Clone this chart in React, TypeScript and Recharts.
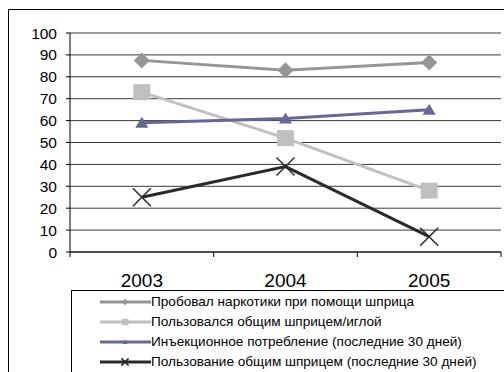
import React from "react";
import { LineChart, Line, XAxis, YAxis, CartesianGrid } from "recharts";

const categories = ["2003", "2004", "2005"];
const seriesNames = [
  "Пробовал наркотики при помощи шприца",
  "Пользовался общим шприцем/иглой",
  "Инъекционное потребление (последние 30 дней)",
  "Пользование общим шприцем (последние 30 дней)",
];
const triedInjecting = [87.5, 83, 86.5];
const sharedSyringe = [73, 52, 28];
const injecting30 = [59, 61, 65];
const sharedSyringe30 = [25, 39, 7];
const yTicks = [0, 10, 20, 30, 40, 50, 60, 70, 80, 90, 100];

const seriesValues = [triedInjecting, sharedSyringe, injecting30, sharedSyringe30];
const colors = ["#969696", "#c0c0c0", "#666699", "#2a2a2a"];
const shapes = ["diamond", "square", "triangle", "cross"];

const data = categories.map((c, i) => ({
  x: i + 0.5,
  label: c,
  s0: seriesValues[0][i],
  s1: seriesValues[1][i],
  s2: seriesValues[2][i],
  s3: seriesValues[3][i],
}));

const FONT = "'Liberation Sans', Arial, sans-serif";

function Marker({ shape, cx, cy, color, scale }: any) {
  const s = scale;
  if (shape === "diamond") {
    return (
      <polygon
        points={`${cx},${cy - 8 * s} ${cx + 8 * s},${cy} ${cx},${cy + 8 * s} ${cx - 8 * s},${cy}`}
        fill={color}
      />
    );
  }
  if (shape === "square") {
    return <rect x={cx - 8.5 * s} y={cy - 8 * s} width={17 * s} height={16 * s} fill={color} />;
  }
  if (shape === "triangle") {
    return (
      <polygon
        points={`${cx},${cy - 6 * s} ${cx + 6.5 * s},${cy + 5 * s} ${cx - 6.5 * s},${cy + 5 * s}`}
        fill={color}
      />
    );
  }
  return (
    <g stroke={color} strokeWidth={1.5}>
      <line x1={cx - 9 * s} y1={cy - 9 * s} x2={cx + 9 * s} y2={cy + 9 * s} />
      <line x1={cx - 9 * s} y1={cy + 9 * s} x2={cx + 9 * s} y2={cy - 9 * s} />
    </g>
  );
}

const makeDot = (idx: number) => (props: any) => {
  const { cx, cy, index } = props;
  if (cx == null || cy == null) return <g key={index} />;
  return (
    <g key={`d${idx}-${index}`}>
      <Marker shape={shapes[idx]} cx={cx} cy={cy} color={colors[idx]} scale={1} />
    </g>
  );
};

const XTick = (props: any) => {
  const { x, y, payload } = props;
  const v = payload.value;
  if (Number.isInteger(v)) {
    return <line x1={x} y1={y} x2={x} y2={y + 5} stroke="#000" strokeWidth={1} />;
  }
  const i = Math.floor(v);
  return (
    <text x={x} y={y + 35} textAnchor="middle" fontFamily={FONT} fontSize={19} fill="#000">
      {categories[i]}
    </text>
  );
};

export default function App() {
  return (
    <div
      style={{
        position: "absolute",
        left: 0,
        top: 0,
        width: 504,
        height: 372,
        overflow: "hidden",
        background: "#fff",
      }}
    >
      <div
        style={{
          position: "absolute",
          left: 8,
          top: 9,
          width: 600,
          height: 500,
          border: "1px solid #000",
          boxSizing: "border-box",
        }}
      />
      <div style={{ position: "absolute", left: 0, top: 0 }}>
        <LineChart
          width={504}
          height={372}
          data={data}
          margin={{ top: 33, right: 3, bottom: 0, left: 0 }}
        >
          <CartesianGrid vertical={false} stroke="#3a3a3a" strokeWidth={1} />
          <XAxis
            xAxisId="top"
            orientation="top"
            dataKey="x"
            type="number"
            domain={[0, 3]}
            height={0}
            tick={false}
            tickLine={false}
            stroke="#808080"
            strokeWidth={1.5}
          />
          <XAxis
            dataKey="x"
            type="number"
            domain={[0, 3]}
            ticks={[0, 0.5, 1, 1.5, 2, 2.5, 3]}
            height={120}
            tickSize={0}
            tickMargin={0}
            tickLine={false}
            tick={<XTick />}
            stroke="#000"
            interval={0}
          />
          <YAxis
            domain={[0, 100]}
            ticks={yTicks}
            width={70}
            tickSize={4}
            tickMargin={9}
            stroke="#000"
            tick={{ fontFamily: FONT, fontSize: 15.5, fill: "#000" }}
            interval={0}
          />
          <YAxis
            yAxisId="right"
            orientation="right"
            domain={[0, 100]}
            width={0}
            tick={false}
            tickLine={false}
            stroke="#808080"
            strokeWidth={1.5}
          />
          {[0, 1, 2, 3].map((idx) => (
            <Line
              key={idx}
              dataKey={`s${idx}`}
              name={seriesNames[idx]}
              stroke={colors[idx]}
              strokeWidth={3}
              dot={makeDot(idx)}
              activeDot={false}
              isAnimationActive={false}
            />
          ))}
        </LineChart>
      </div>
      <div
        style={{
          position: "absolute",
          left: 71,
          top: 290,
          width: 440,
          height: 120,
          border: "1px solid #000",
          boxSizing: "border-box",
          background: "#fff",
        }}
      />
      {seriesNames.map((name, idx) => (
        <div
          key={name}
          style={{
            position: "absolute",
            left: 100,
            top: 292 + idx * 20,
            height: 20,
            display: "flex",
            alignItems: "center",
            whiteSpace: "nowrap",
          }}
        >
          <svg width={51} height={20} style={{ display: "block" }}>
            <line x1={0} y1={10} x2={51} y2={10} stroke={colors[idx]} strokeWidth={3} />
            <Marker shape={shapes[idx]} cx={25} cy={10} color={colors[idx]} scale={0.4} />
          </svg>
          <span style={{ fontFamily: FONT, fontSize: 13.6, color: "#000", lineHeight: "20px" }}>
            {name}
          </span>
        </div>
      ))}
    </div>
  );
}
